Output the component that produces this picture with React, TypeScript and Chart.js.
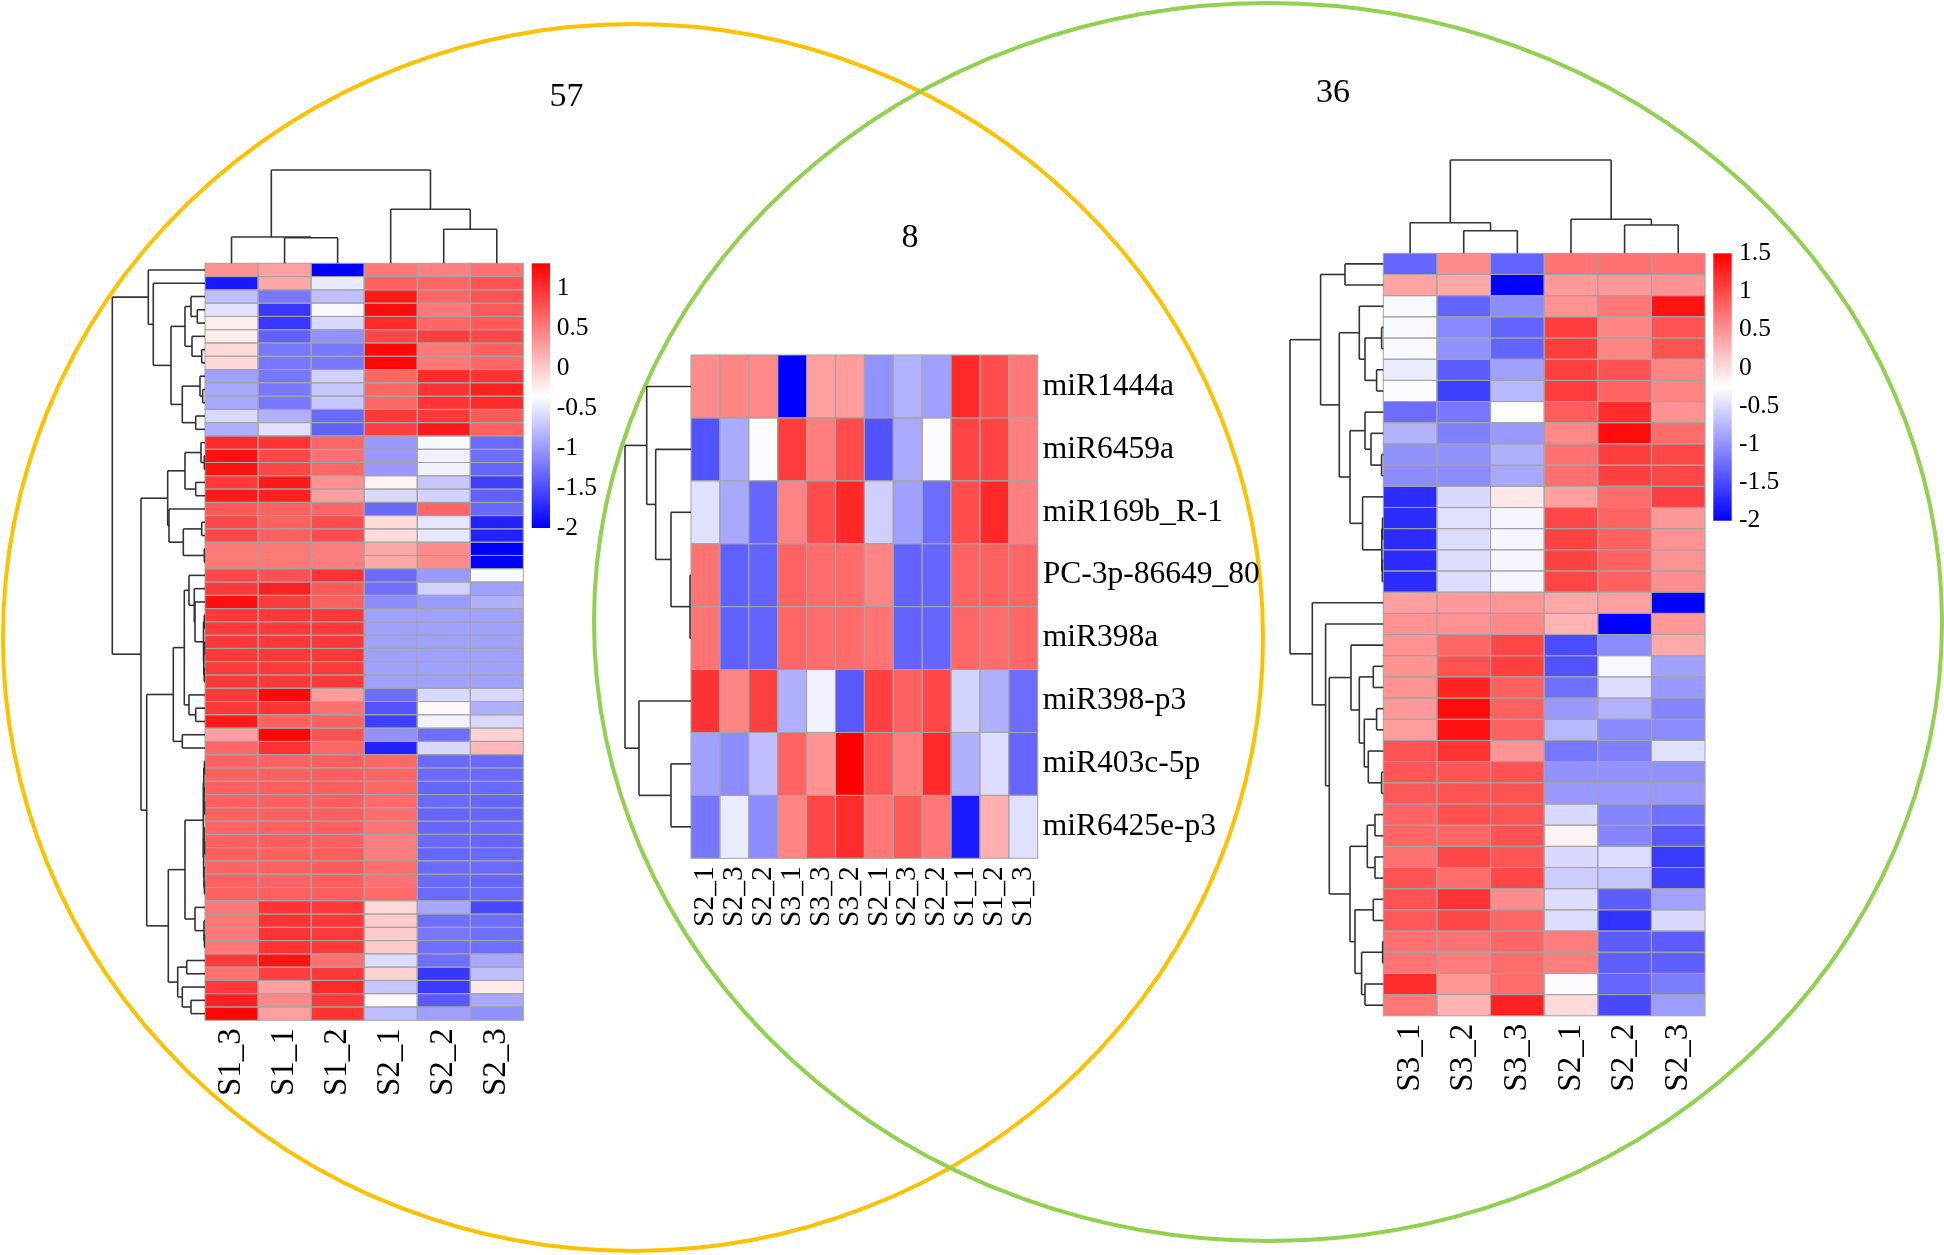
import React, { useEffect, useRef } from "react";
import { Chart, registerables } from "chart.js";

Chart.register(...registerables);

const CANVAS_W = 1944;
const CANVAS_H = 1255;

// ---------------- Venn ----------------
const vennLabels = ["57", "8", "36"];

// ---------------- Left heatmap (57 x 6) ----------------
const leftColLabels = ["S1_3", "S1_1", "S1_2", "S2_1", "S2_2", "S2_3"];
const leftRange = [-2, 1.31];
const leftLegendTicks = [1, 0.5, 0, -0.5, -1, -1.5, -2];
const leftValues = [
  [0.37, 0.27, -2, 0.53, 0.48, 0.58],
  [-1.84, 0.22, -0.48, 0.68, 0.65, 0.78],
  [-0.76, -1.22, -0.76, 1.15, 0.65, 0.78],
  [-0.54, -1.64, -0.39, 1.23, 0.53, 0.73],
  [-0.23, -1.64, -0.59, 1.04, 0.65, 0.73],
  [-0.23, -1.37, -1.06, 0.85, 0.9, 0.85],
  [-0.1, -1.22, -1.22, 1.26, 0.53, 0.68],
  [-0.1, -1.22, -1.22, 1.26, 0.53, 0.65],
  [-0.96, -1.22, -0.64, 0.65, 1.04, 0.98],
  [-0.91, -1.22, -0.71, 0.65, 0.98, 1.1],
  [-0.91, -1.22, -0.71, 0.65, 0.98, 1.04],
  [-0.59, -0.86, -1.31, 0.94, 0.94, 0.73],
  [-0.86, -0.54, -1.37, 0.9, 1.15, 0.68],
  [1.04, 0.98, 0.65, -1.01, -0.39, -1.31],
  [1.2, 0.85, 0.58, -1.01, -0.44, -1.28],
  [1.2, 0.85, 0.65, -1.01, -0.44, -1.34],
  [0.94, 1.15, 0.37, -0.26, -0.71, -1.59],
  [1.15, 1.1, 0.27, -0.59, -0.64, -1.37],
  [0.73, 0.68, 0.65, -1.31, 0.65, -1.31],
  [0.85, 0.68, 0.82, -0.12, -0.51, -1.78],
  [0.85, 0.68, 0.82, -0.12, -0.51, -1.78],
  [0.53, 0.53, 0.5, 0.22, 0.4, -2],
  [0.53, 0.53, 0.5, 0.22, 0.4, -2],
  [0.85, 0.78, 0.98, -1.31, -1.01, -0.39],
  [0.94, 1.1, 0.73, -1.28, -0.64, -0.96],
  [1.2, 0.92, 0.68, -1.09, -0.99, -0.86],
  [0.94, 0.94, 0.94, -0.96, -0.96, -0.96],
  [0.94, 0.94, 0.94, -0.96, -0.96, -0.96],
  [0.94, 0.94, 0.94, -0.96, -0.96, -0.96],
  [0.94, 0.94, 0.94, -0.96, -0.96, -0.96],
  [0.94, 0.94, 0.94, -0.96, -0.96, -0.96],
  [0.94, 0.94, 0.94, -0.96, -0.96, -0.96],
  [0.94, 1.26, 0.3, -1.28, -0.59, -0.59],
  [0.94, 0.98, 0.58, -1.47, -0.3, -0.86],
  [1.15, 0.68, 0.68, -1.59, -0.42, -0.59],
  [0.27, 1.28, 0.78, -1.06, -1.28, -0.05],
  [0.65, 0.98, 0.65, -1.78, -0.59, 0.12],
  [0.68, 0.68, 0.7, 0.65, -1.31, -1.31],
  [0.68, 0.68, 0.7, 0.65, -1.31, -1.31],
  [0.68, 0.7, 0.7, 0.65, -1.34, -1.31],
  [0.68, 0.68, 0.7, 0.62, -1.31, -1.34],
  [0.68, 0.68, 0.7, 0.6, -1.34, -1.34],
  [0.66, 0.68, 0.7, 0.55, -1.34, -1.31],
  [0.68, 0.7, 0.68, 0.5, -1.31, -1.34],
  [0.7, 0.68, 0.7, 0.5, -1.34, -1.31],
  [0.66, 0.68, 0.72, 0.6, -1.31, -1.31],
  [0.68, 0.66, 0.7, 0.58, -1.31, -1.34],
  [0.68, 0.68, 0.7, 0.62, -1.31, -1.31],
  [0.53, 0.98, 0.94, -0.1, -0.91, -1.53],
  [0.53, 0.98, 0.94, -0.01, -1.28, -1.28],
  [0.53, 0.98, 0.94, -0.01, -1.22, -1.28],
  [0.53, 0.98, 0.94, -0.01, -1.28, -1.28],
  [0.94, 1.18, 0.58, -0.57, -1.28, -0.91],
  [0.58, 0.9, 0.94, -0.05, -1.64, -0.76],
  [0.94, 0.27, 1.04, -0.71, -1.62, -0.2],
  [1.1, 0.42, 0.94, -0.3, -1.42, -0.91],
  [1.28, 0.27, 0.98, -0.76, -0.96, -1.06],
];

// ---------------- Middle heatmap (8 x 12) ----------------
const midColLabels = ["S2_1", "S2_3", "S2_2", "S3_1", "S3_3", "S3_2", "S2_1", "S2_3", "S2_2", "S1_1", "S1_2", "S1_3"];
const midRowLabels = ["miR1444a", "miR6459a", "miR169b_R-1", "PC-3p-86649_80", "miR398a", "miR398-p3", "miR403c-5p", "miR6425e-p3"];
const midRange = [-2, 1.5];
const midValues = [
  [0.54, 0.59, 0.57, -2, 0.4, 0.42, -0.99, -0.78, -0.9, 1.22, 0.98, 0.68],
  [-1.44, -0.83, -0.27, 1.08, 0.64, 0.98, -1.44, -0.83, -0.27, 1.03, 1.03, 0.63],
  [-0.46, -0.85, -1.3, 0.59, 0.98, 1.22, -0.57, -0.9, -1.26, 0.98, 1.22, 0.63],
  [0.71, -1.34, -1.32, 0.82, 0.76, 0.76, 0.59, -1.32, -1.3, 0.82, 0.84, 0.8],
  [0.71, -1.34, -1.32, 0.8, 0.76, 0.76, 0.71, -1.32, -1.3, 0.8, 0.76, 0.8],
  [1.15, 0.59, 1.06, -0.79, -0.34, -1.39, 1.06, 0.84, 1.01, -0.55, -0.79, -1.26],
  [-0.9, -1.04, -0.69, 0.82, 0.5, 1.5, 0.92, 0.64, 1.22, -0.79, -0.48, -1.3],
  [-1.18, -0.39, -1.04, 0.59, 1.01, 1.2, 0.68, 0.89, 0.68, -1.83, 0.3, -0.46],
];

// ---------------- Right heatmap (36 x 6) ----------------
const rightColLabels = ["S3_1", "S3_2", "S3_3", "S2_1", "S2_2", "S2_3"];
const rightRange = [-2, 1.5];
const rightLegendTicks = [1.5, 1, 0.5, 0, -0.5, -1, -1.5, -2];
const rightValues = [
  [-1.3, 0.54, -1.32, 0.71, 0.73, 0.71],
  [0.38, 0.35, -2, 0.45, 0.45, 0.5],
  [-0.3, -1.32, -1.04, 0.5, 0.68, 1.36],
  [-0.3, -1.07, -1.32, 1.08, 0.59, 0.94],
  [-0.3, -1.0, -1.32, 1.08, 0.59, 0.94],
  [-0.39, -1.37, -0.9, 1.06, 0.94, 0.59],
  [-0.27, -1.56, -0.74, 1.08, 0.82, 0.59],
  [-1.26, -1.18, -0.23, 0.87, 1.2, 0.5],
  [-0.78, -1.13, -0.95, 0.57, 1.41, 0.76],
  [-1.0, -1.0, -0.79, 0.73, 1.08, 1.01],
  [-1.04, -1.04, -0.85, 0.73, 1.06, 1.01],
  [-1.7, -0.51, -0.09, 0.4, 0.76, 1.06],
  [-1.7, -0.46, -0.32, 1.01, 0.82, 0.45],
  [-1.7, -0.48, -0.32, 1.04, 0.84, 0.5],
  [-1.7, -0.48, -0.32, 1.04, 0.84, 0.5],
  [-1.7, -0.48, -0.32, 1.02, 0.84, 0.52],
  [0.4, 0.45, 0.47, 0.35, 0.4, -2],
  [0.5, 0.5, 0.57, 0.27, -2, 0.45],
  [0.5, 0.8, 1.01, -1.48, -1.04, 0.33],
  [0.5, 0.94, 1.06, -1.44, -0.3, -0.9],
  [0.5, 1.25, 0.84, -1.23, -0.48, -0.95],
  [0.45, 1.41, 0.84, -0.95, -0.78, -1.09],
  [0.42, 1.39, 0.84, -0.74, -1.07, -1.04],
  [0.94, 1.15, 0.5, -1.18, -1.13, -0.46],
  [0.92, 0.92, 0.94, -1.0, -1.0, -1.0],
  [0.89, 0.94, 0.94, -0.95, -0.95, -0.95],
  [0.82, 0.96, 0.94, -0.51, -1.09, -1.23],
  [0.8, 0.8, 0.94, -0.16, -1.09, -1.39],
  [0.73, 1.01, 0.92, -0.51, -0.48, -1.6],
  [0.94, 0.76, 1.01, -0.6, -0.65, -1.56],
  [0.94, 1.15, 0.54, -0.48, -1.37, -0.88],
  [0.89, 1.01, 0.8, -0.48, -1.65, -0.51],
  [0.73, 0.71, 0.8, 0.64, -1.37, -1.37],
  [0.71, 0.64, 0.76, 0.63, -1.35, -1.35],
  [1.2, 0.47, 0.76, -0.27, -1.3, -1.14],
  [0.68, 0.27, 1.27, 0.0, -1.5, -0.92],
];

// ---------------- Dendrograms: [height, left, right], leaves = index ----------------
type TreeNode = number | [number, TreeNode, TreeNode];

const leftRowTree: TreeNode = [92.7,
  [56.7, 0, [51.7, 1, [34,
    [20, [14, 2, [7.7, 3, 4]], [13, 5, [3.3, 6, 7]]],
    [22.7, [5, 8, [2.3, 9, 10]], [9.3, 11, 12]]]]],
  [64,
    [37.3, [20, [4, 13, [0.7, 14, 15]], [9.3, 16, 17]], [36, 18, [21.7, [3.3, 19, 20], [0.7, 21, 22]]]],
    [58.3,
      [31.7,
        [20.7,
          [16, 23, [10.7, 24, [10, 25, [1.5, [0.7, 26, 27], [1.2, [0.5, 28, 29], [0.8, 30, 31]]]]]],
          [16, 32, [9.3, 33, 34]]],
        [22.7, 35, 36]],
      [36.7,
        [20,
          [1.7, [1.2, [0.6, 37, 38], [0.9, 39, [0.5, 40, 41]]], [1.4, [0.8, 42, [0.4, 43, 44]], [1, 45, [0.6, 46, 47]]]],
          [10, 48, [1, 49, [0.6, 50, 51]]]],
        [27.3, [18.3, 52, 53], [22.7, 54, [14, 55, 56]]]]]]];
const leftColTree: TreeNode = [93.3, [26.3, 0, [25.6, 1, 2]], [54, 3, [34, 4, 5]]];

const midRowTree: TreeNode = [66, [44.3, 0, [35.3, 1, [20, 2, [1, 3, 4]]]], [52, 5, [20, 6, 7]]];

const rightRowTree: TreeNode = [93.3,
  [62.7, [38.3, 0, 1],
    [44,
      [24, 2, [18.3, [1.7, 3, 4], [6.7, 5, 6]]],
      [33.3, [18.3, 7, [12.3, 8, [1.7, 9, 10]]], [20.7, 11, [1.5, [0.8, 12, 13], [1, 14, 15]]]]]],
  [71, 16, [57.7, 17, [54,
    [32.3, 18, [24, [10, 19, 20], [19, [6.7, 21, 22], [15, 23, [1.7, 24, 25]]]]],
    [33.3, [16, [8.3, 26, 27], [8.3, 28, 29]], [28.3, [10, 30, 31], [21.7, [0.7, 32, 33], [18.3, 34, 35]]]]]]]];
const rightColTree: TreeNode = [93.3, [30.6, 0, [22.6, 1, 2]], [34, 3, [28.3, 4, 5]]];

// ---------------- Layout (positions/sizes) ----------------
const FONT = "'Liberation Serif', 'Times New Roman', serif";
const LEFT_HM = { x: 205, y: 263.3, cw: 53.05, ch: 13.28 };
const MID_HM = { x: 691, y: 355, cw: 28.89, ch: 62.91 };
const RIGHT_HM = { x: 1383.3, y: 253.3, cw: 53.62, ch: 21.18 };
const LEFT_LEGEND = { x: 531.7, w: 18.3, top: 263.3, bottom: 528, labelX: 556.7 };
const RIGHT_LEGEND = { x: 1713.3, w: 18.4, top: 253.3, bottom: 520.7, labelX: 1739 };
const ORANGE = { cx: 633, cy: 637.5, rx: 630, ry: 613.5, color: "#FFC000" };
const GREEN = { cx: 1268, cy: 622, rx: 674, ry: 619, color: "#92D050" };
const VENN_POS = [[566.6, 106], [910, 247], [1333, 101.7]];

function colorFor(v: number, min: number, max: number): string {
  const mid = (min + max) / 2;
  let r: number, g: number, b: number;
  if (v >= mid) {
    const t = Math.min(1, (v - mid) / (max - mid));
    r = 255; g = b = Math.round(255 * (1 - t));
  } else {
    const t = Math.min(1, (mid - v) / (mid - min));
    b = 255; r = g = Math.round(255 * (1 - t));
  }
  return `rgb(${r},${g},${b})`;
}

const figurePlugin = {
  id: "vennHeatmaps",
  afterDraw(chart: any) {
    const ctx: CanvasRenderingContext2D = chart.ctx;
    const xs = chart.scales.x;
    const ys = chart.scales.y;
    const px = (v: number) => xs.getPixelForValue(v);
    const py = (v: number) => ys.getPixelForValue(v);

    ctx.save();

    // Venn ellipses
    for (const e of [ORANGE, GREEN]) {
      ctx.beginPath();
      ctx.ellipse(px(e.cx), py(e.cy), px(e.cx + e.rx) - px(e.cx), Math.abs(py(e.cy + e.ry) - py(e.cy)), 0, 0, Math.PI * 2);
      ctx.strokeStyle = e.color;
      ctx.lineWidth = 4;
      ctx.stroke();
    }

    // Venn counts
    ctx.fillStyle = "#000";
    ctx.font = `34px ${FONT}`;
    ctx.textAlign = "center";
    ctx.textBaseline = "alphabetic";
    vennLabels.forEach((t, i) => ctx.fillText(t, px(VENN_POS[i][0]), py(VENN_POS[i][1])));

    const drawHeatmap = (vals: number[][], L: any, range: number[]) => {
      const nr = vals.length, nc = vals[0].length;
      for (let r = 0; r < nr; r++) {
        for (let c = 0; c < nc; c++) {
          const x0 = px(L.x + c * L.cw), x1 = px(L.x + (c + 1) * L.cw);
          const y0 = py(L.y + r * L.ch), y1 = py(L.y + (r + 1) * L.ch);
          ctx.fillStyle = colorFor(vals[r][c], range[0], range[1]);
          ctx.fillRect(x0, y0, x1 - x0, y1 - y0);
        }
      }
      ctx.strokeStyle = "#a3a3a3";
      ctx.lineWidth = 1;
      for (let r = 0; r < nr; r++) {
        for (let c = 0; c < nc; c++) {
          const x0 = px(L.x + c * L.cw), x1 = px(L.x + (c + 1) * L.cw);
          const y0 = py(L.y + r * L.ch), y1 = py(L.y + (r + 1) * L.ch);
          ctx.strokeRect(x0, y0, x1 - x0, y1 - y0);
        }
      }
    };

    const drawTree = (tree: TreeNode, leafPos: (i: number) => number, toPix: (p: number, d: number) => [number, number]) => {
      ctx.strokeStyle = "#333";
      ctx.lineWidth = 1.6;
      const seg = (p1: number, d1: number, p2: number, d2: number) => {
        const [a, b] = toPix(p1, d1);
        const [c, d] = toPix(p2, d2);
        ctx.beginPath();
        ctx.moveTo(a, b);
        ctx.lineTo(c, d);
        ctx.stroke();
      };
      const walk = (n: TreeNode): { p: number; d: number } => {
        if (typeof n === "number") return { p: leafPos(n), d: 0 };
        const a = walk(n[1]);
        const b = walk(n[2]);
        const h = n[0];
        seg(a.p, a.d, a.p, h);
        seg(b.p, b.d, b.p, h);
        seg(a.p, h, b.p, h);
        return { p: (a.p + b.p) / 2, d: h };
      };
      walk(tree);
    };

    const rowTree = (tree: TreeNode, L: any) =>
      drawTree(tree, (i) => L.y + (i + 0.5) * L.ch, (p, d) => [px(L.x - d), py(p)]);
    const colTree = (tree: TreeNode, L: any) =>
      drawTree(tree, (i) => L.x + (i + 0.5) * L.cw, (p, d) => [px(p), py(L.y - d)]);

    const colLabels = (labels: string[], L: any, top: number, size: number) => {
      ctx.fillStyle = "#000";
      ctx.font = `${size}px ${FONT}`;
      ctx.textAlign = "right";
      ctx.textBaseline = "middle";
      labels.forEach((t, i) => {
        ctx.save();
        ctx.translate(px(L.x + (i + 0.5) * L.cw), py(top));
        ctx.rotate(-Math.PI / 2);
        ctx.fillText(t, 0, 0);
        ctx.restore();
      });
    };

    const legend = (Lg: any, range: number[], ticks: number[]) => {
      const scaleY = (v: number) => Lg.bottom + (v - range[0]) / (range[1] - range[0]) * (Lg.top - Lg.bottom);
      const grad = ctx.createLinearGradient(0, py(Lg.bottom), 0, py(Lg.top));
      grad.addColorStop(0, "rgb(0,0,255)");
      grad.addColorStop(0.5, "rgb(255,255,255)");
      grad.addColorStop(1, "rgb(255,0,0)");
      ctx.fillStyle = grad;
      ctx.fillRect(px(Lg.x), py(Lg.top), px(Lg.x + Lg.w) - px(Lg.x), py(Lg.bottom) - py(Lg.top));
      ctx.fillStyle = "#000";
      ctx.font = `25.5px ${FONT}`;
      ctx.textAlign = "left";
      ctx.textBaseline = "middle";
      ticks.forEach((t) => ctx.fillText(String(t), px(Lg.labelX), py(scaleY(t))));
    };

    // Left
    drawHeatmap(leftValues, LEFT_HM, leftRange);
    rowTree(leftRowTree, LEFT_HM);
    colTree(leftColTree, LEFT_HM);
    colLabels(leftColLabels, LEFT_HM, LEFT_HM.y + leftValues.length * LEFT_HM.ch + 8, 33);
    legend(LEFT_LEGEND, leftRange, leftLegendTicks);

    // Middle
    drawHeatmap(midValues, MID_HM, midRange);
    rowTree(midRowTree, MID_HM);
    colLabels(midColLabels, MID_HM, MID_HM.y + midValues.length * MID_HM.ch + 8, 29.5);
    ctx.fillStyle = "#000";
    ctx.font = `31.5px ${FONT}`;
    ctx.textAlign = "left";
    ctx.textBaseline = "middle";
    midRowLabels.forEach((t, i) =>
      ctx.fillText(t, px(MID_HM.x + midColLabels.length * MID_HM.cw + 5), py(MID_HM.y + (i + 0.5) * MID_HM.ch)));

    // Right
    drawHeatmap(rightValues, RIGHT_HM, rightRange);
    rowTree(rightRowTree, RIGHT_HM);
    colTree(rightColTree, RIGHT_HM);
    colLabels(rightColLabels, RIGHT_HM, RIGHT_HM.y + rightValues.length * RIGHT_HM.ch + 8, 33);
    legend(RIGHT_LEGEND, rightRange, rightLegendTicks);

    ctx.restore();
  },
};

export default function App() {
  const ref = useRef<HTMLCanvasElement>(null);
  useEffect(() => {
    const canvas = ref.current;
    if (!canvas) return;
    const chart = new Chart(canvas, {
      type: "scatter",
      data: { datasets: [{ data: [] }] },
      options: {
        responsive: false,
        maintainAspectRatio: false,
        animation: false,
        devicePixelRatio: 1,
        events: [],
        layout: { padding: 0 },
        scales: {
          x: { type: "linear", min: 0, max: CANVAS_W, display: false },
          y: { type: "linear", min: 0, max: CANVAS_H, reverse: true, display: false },
        },
        plugins: { legend: { display: false }, tooltip: { enabled: false } },
      },
      plugins: [figurePlugin],
    } as any);
    return () => chart.destroy();
  }, []);
  return (
    <div style={{ position: "absolute", left: 0, top: 0, width: CANVAS_W, height: CANVAS_H, background: "#fff" }}>
      <canvas ref={ref} width={CANVAS_W} height={CANVAS_H} style={{ display: "block" }} />
    </div>
  );
}
